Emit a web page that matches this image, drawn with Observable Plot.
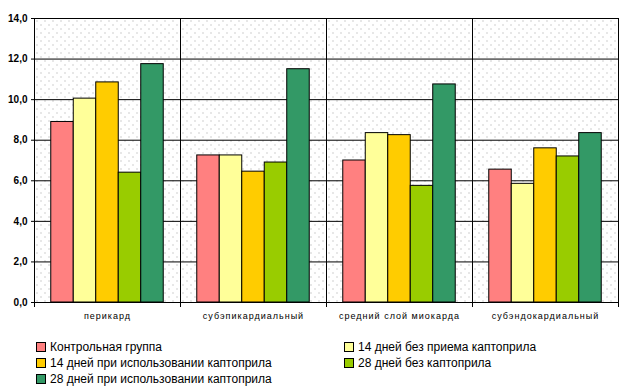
<!DOCTYPE html>
<html>
<head>
<meta charset="utf-8">
<script src="https://cdn.jsdelivr.net/npm/d3@7"></script>
<script src="https://cdn.jsdelivr.net/npm/@observablehq/plot@0.6"></script>
<style>
  body { margin: 0; background: #fff; font-family: Arial, "Liberation Sans", sans-serif; }
  #wrap { position: relative; width: 623px; height: 391px; overflow: hidden; }
  #legend { position: absolute; left: 0; top: 340px; width: 623px; font-size: 12px; color: #000; }
  .li { position: absolute; display: flex; align-items: center; white-space: nowrap; }
  .sw { width: 8px; height: 8px; border: 1px solid #000; margin-right: 4px; }
</style>
</head>
<body>
<div id="wrap"><div id="chart"></div><div id="legend"></div></div>
<script>
const categories = ["перикард", "субэпикардиальный", "средний слой миокарда", "субэндокардиальный"];
const series = [
  "Контрольная группа",
  "14 дней без приема каптоприла",
  "14 дней при использовании каптоприла",
  "28 дней без каптоприла",
  "28 дней при использовании каптоприла"
];
const colors = ["#FF8080", "#FFFF99", "#FFCC00", "#99CC00", "#339966"];
const control   = [8.9, 7.25, 7.0, 6.55];
const d14no     = [10.05, 7.25, 8.35, 5.85];
const d14cap    = [10.85, 6.45, 8.25, 7.6];
const d28no     = [6.4, 6.9, 5.75, 7.2];
const d28cap    = [11.75, 11.5, 10.75, 8.35];
const yTicks = [0, 2, 4, 6, 8, 10, 12, 14];

const valuesBySeries = [control, d14no, d14cap, d28no, d28cap];
const data = [];
categories.forEach((c, ci) => series.forEach((s, si) => data.push({cat: c, ser: s, v: valuesBySeries[si][ci]})));

const fmt = d => d3.format(".1f")(d).replace(".", ",");

const chart = Plot.plot({
  width: 623,
  height: 330,
  marginLeft: 34,
  marginRight: 5,
  marginTop: 18,
  marginBottom: 28,
  style: {fontFamily: "Arial, 'Liberation Sans', sans-serif", background: "transparent"},
  fx: {domain: categories, padding: 0, label: null, axis: "bottom", tickSize: 0, tickPadding: 10},
  x: {domain: series, paddingInner: 0, paddingOuter: 0.745, round: false, axis: null},
  y: {domain: [0, 14], ticks: yTicks, tickFormat: fmt, tickSize: 3, tickPadding: 4, label: null},
  color: {domain: series, range: colors},
  marks: [
    Plot.frame({fill: "url(#dots)", stroke: null}),
    Plot.ruleY(yTicks, {stroke: "#000", strokeWidth: 1}),
    Plot.barY(data, {fx: "cat", x: "ser", y: "v", fill: "ser", stroke: "#000", strokeWidth: 1}),
    Plot.frame({stroke: "#000", strokeWidth: 1, anchor: "left", insetBottom: -4}),
    Plot.frame({stroke: "#000", strokeWidth: 1, anchor: "right", insetBottom: -4}),
    Plot.ruleY([0, 14], {stroke: "#000", strokeWidth: 1})
  ]
});

// dotted background pattern
const ns = "http://www.w3.org/2000/svg";
const defs = document.createElementNS(ns, "defs");
defs.innerHTML = '<pattern id="dots" width="8" height="8" patternUnits="userSpaceOnUse">' +
  '<rect x="0" y="0" width="1" height="1" fill="#a0a0a0"/>' +
  '<rect x="4" y="4" width="1" height="1" fill="#a0a0a0"/></pattern>';
chart.insertBefore(defs, chart.firstChild);

// axis text styling
chart.querySelectorAll("[aria-label='y-axis tick label'] text").forEach(t => {
  t.setAttribute("font-size", "10px"); t.setAttribute("font-weight", "bold");
});
chart.querySelectorAll("[aria-label='fx-axis tick label'] text").forEach(t => {
  t.setAttribute("font-size", "9px"); t.setAttribute("letter-spacing", "1px");
});
document.getElementById("chart").appendChild(chart);

// legend
const legend = document.getElementById("legend");
const pos = [[36, 0], [344, 0], [36, 16], [344, 16], [36, 32]];
series.forEach((s, i) => {
  const d = document.createElement("div");
  d.className = "li";
  d.style.left = pos[i][0] + "px";
  d.style.top = pos[i][1] + "px";
  d.innerHTML = `<span class="sw" style="background:${colors[i]}"></span><span>${s}</span>`;
  legend.appendChild(d);
});
</script>
</body>
</html>
